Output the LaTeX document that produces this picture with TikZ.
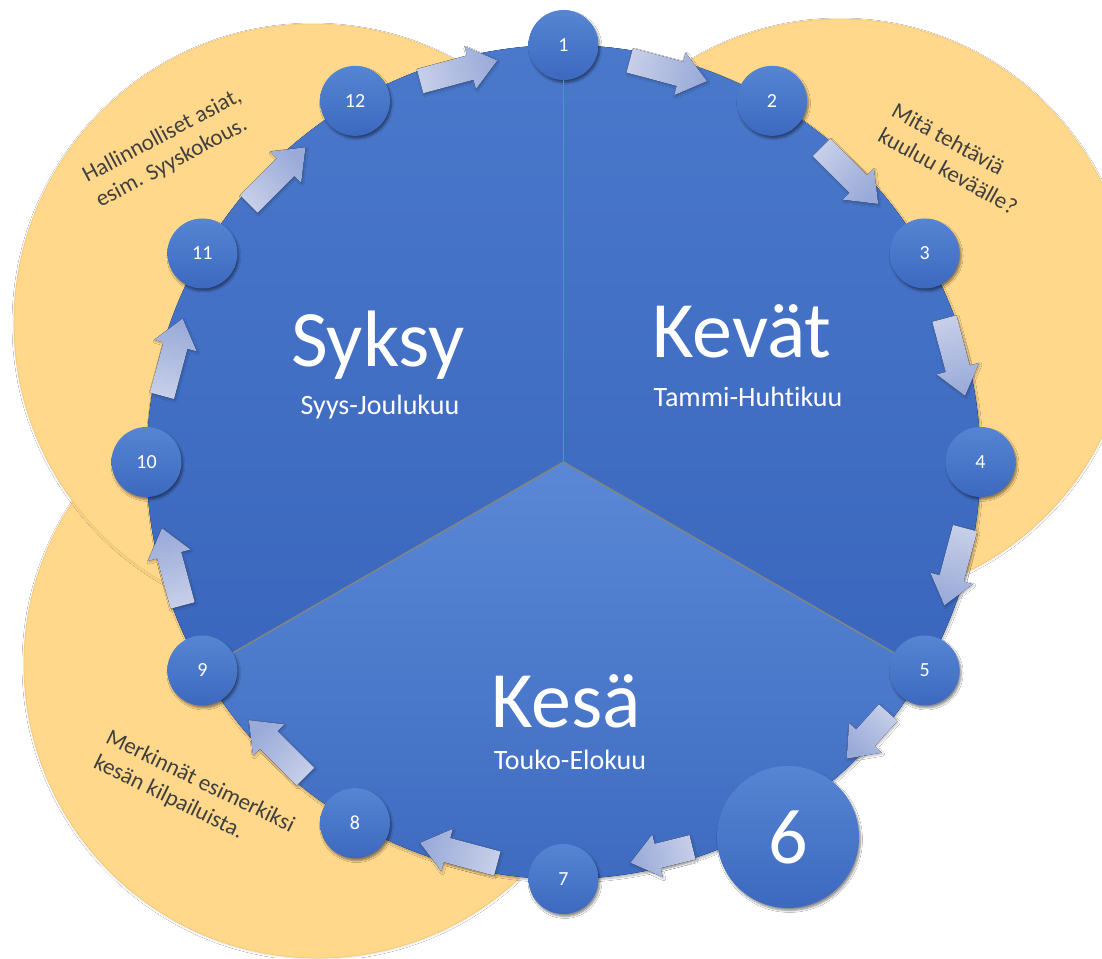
\documentclass[tikz,border=0pt]{standalone}
\usepackage{fontspec}
\setmainfont{Carlito}[Ligatures=NoCommon]
\usetikzlibrary{shadows.blur,calc}

\definecolor{yel}{HTML}{FFD88C}
\definecolor{yeledge}{HTML}{F6CA78}
\definecolor{blueA}{HTML}{4472C4}
\definecolor{blueLight}{HTML}{5685D3}
\definecolor{blueDark}{HTML}{3C69BF}
\definecolor{secLight}{HTML}{5A88D6}
\definecolor{secMid}{HTML}{4A78CB}
\definecolor{secDark}{HTML}{3A67BD}
\definecolor{arrLight}{HTML}{C6CEE8}
\definecolor{arrDark}{HTML}{9AABD9}
\definecolor{divline}{HTML}{7F8683}
\definecolor{notetext}{HTML}{404040}

\tikzset{
  pics/blockarrow/.style n args={2}{code={
    \pgfmathsetmacro\halflen{#1/2}
    \pgfmathsetmacro\headbase{#1/2-28}
    \pgfmathsetmacro\shadeang{#2+90}
    \fill[rotate=#2, left color=arrLight, right color=arrDark, shading angle=\shadeang,
          blur shadow={shadow xshift=1pt, shadow yshift=-1.5pt, shadow blur steps=5, shadow opacity=25}]
      (-\halflen,-12.5) -- (\headbase,-12.5) -- (\headbase,-22) -- (\halflen,0)
      -- (\headbase,22) -- (\headbase,12.5) -- (-\halflen,12.5) -- cycle;
  }}
}

\begin{document}
\begin{tikzpicture}[x=1pt,y=1pt,
  yellowdisc/.style={fill=yel, draw=yeledge, line width=0.8pt,
    blur shadow={shadow xshift=0pt, shadow yshift=-1pt, shadow blur steps=6, shadow opacity=12}},
  monthnode/.style={circle, minimum size=70pt, inner sep=0pt, top color=blueLight, bottom color=blueDark,
    text=white, font=\fontsize{20}{22}\selectfont,
    blur shadow={shadow xshift=1.5pt, shadow yshift=-2.5pt, shadow blur steps=6, shadow opacity=45}},
  bignode/.style={monthnode, minimum size=142pt, font=\fontsize{78}{80}\selectfont},
  title/.style={text=white, font=\fontsize{80}{84}\selectfont, anchor=base, inner sep=0pt},
  subtitle/.style={text=white, font=\fontsize{28}{30}\selectfont, anchor=base, inner sep=0pt},
  note/.style={text=notetext, font=\fontsize{23}{28}\selectfont, anchor=west, inner sep=0pt, align=left},
  divider/.style={draw=divline, line width=1.5pt},
]
\useasboundingbox (0,0) rectangle (1102,958);
\fill[white] (0,0) rectangle (1102,958);
\clip (0,0) rectangle (1102,958);

% yellow background discs
\fill[yellowdisc] (318,294) circle[radius=294pt];
\fill[yellowdisc] (313,635) circle[radius=299pt];
\fill[yellowdisc] (840,648) circle[radius=291pt];

% main disc
\coordinate (C) at (563.5,496);
\fill[blueA, blur shadow={shadow xshift=1pt, shadow yshift=-2pt, shadow blur steps=8, shadow opacity=30}]
  (C) circle[radius=417pt];
\fill[top color=secMid, bottom color=secDark] (C) -- ++(90:417) arc[start angle=90, end angle=210, radius=417pt] -- cycle;
\fill[top color=secMid, bottom color=secDark] (C) -- ++(90:417) arc[start angle=90, end angle=-30, radius=417pt] -- cycle;
\fill[top color=secLight, bottom color=secDark] (C) -- ++(-30:417) arc[start angle=-30, end angle=-150, radius=417pt] -- cycle;

% arrows
\pic at ($(C)+(105:405)$) {blockarrow={80}{15}};
\pic at ($(C)+(75:405)$) {blockarrow={80}{-15}};
\pic at ($(C)+(45:405)$) {blockarrow={80}{-45}};
\pic at ($(C)+(15:405)$) {blockarrow={80}{-75}};
\pic at ($(C)+(-15:405)$) {blockarrow={80}{-105}};
\pic at ($(C)+(-42:409)$) {blockarrow={62}{-132}};
\pic at ($(C)+(-76:405)$) {blockarrow={64}{-166}};
\pic at ($(C)+(-105:405)$) {blockarrow={80}{165}};
\pic at ($(C)+(-135:405)$) {blockarrow={80}{135}};
\pic at ($(C)+(-165:405)$) {blockarrow={80}{105}};
\pic at ($(C)+(165:405)$) {blockarrow={80}{75}};
\pic at ($(C)+(135:405)$) {blockarrow={80}{45}};

% month nodes
\node[monthnode] (n1) at ($(C)+(90:417)$) {1};
\node[monthnode] (n2) at ($(C)+(60:417)$) {2};
\node[monthnode] (n3) at ($(C)+(30:417)$) {3};
\node[monthnode] (n4) at ($(C)+(0:417)$) {4};
\node[monthnode] (n5) at ($(C)+(-30:417)$) {5};
\node[bignode]   (n6) at (788,121) {6};
\node[monthnode] (n7) at ($(C)+(-90:417)$) {7};
\node[monthnode] (n8) at ($(C)+(-120:417)$) {8};
\node[monthnode] (n9) at ($(C)+(-150:417)$) {9};
\node[monthnode] (n10) at ($(C)+(180:417)$) {10};
\node[monthnode] (n11) at ($(C)+(150:417)$) {11};
\node[monthnode] (n12) at ($(C)+(120:417)$) {12};

% dividers
\draw[divider] (C) -- (n1);
\draw[divider] (C) -- (n5);
\draw[divider] (C) -- (n9);

% season titles
\node[title] (syksy) at (378,591) {Syksy};
\node[subtitle] (syksysub) at (380,543) {Syys-Joulukuu};
\node[title] (kevat) at (742,600) {Kevät};
\node[subtitle] (kevatsub) at (748,551) {Tammi-Huhtikuu};
\node[title] (kesa) at (566,230) {Kesä};
\node[subtitle] (kesasub) at (570,188) {Touko-Elokuu};

% notes
\node[note, rotate=28] (hal) at (91,768) {Hallinnolliset asiat,\\esim. Syyskokous.};
\node[note, rotate=-29] (mita) at (887,837) {Mitä tehtäviä\\kuuluu keväälle?};
\node[note, rotate=-26] (mer) at (101,209) {Merkinnät esimerkiksi\\kesän kilpailuista.};
\end{tikzpicture}
\end{document}
